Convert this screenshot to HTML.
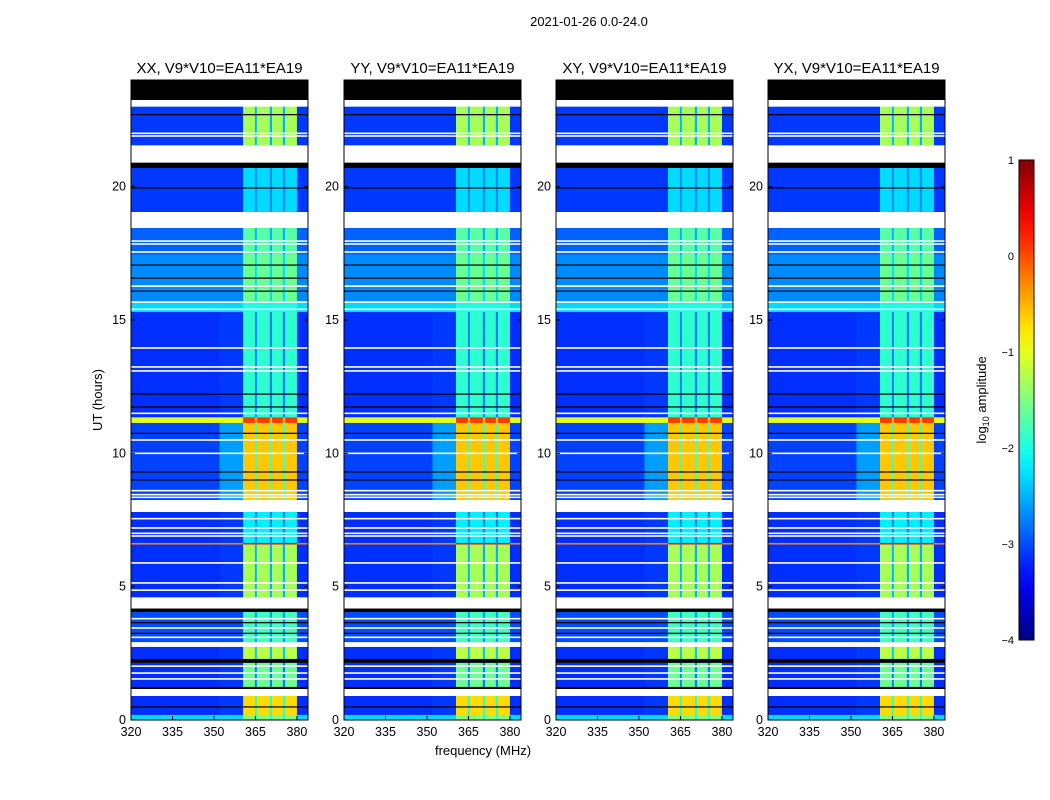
<!DOCTYPE html>
<html><head><meta charset="utf-8">
<style>
html,body{margin:0;padding:0;background:#fff;}
svg{display:block;font-family:"Liberation Sans",sans-serif;}
</style></head>
<body>
<svg id="fig" width="1050" height="800" viewBox="0 0 1050 800" xmlns="http://www.w3.org/2000/svg">
<text x="589" y="26" font-size="13" text-anchor="middle">2021-01-26 0.0-24.0</text>
<text x="483" y="755" font-size="13" text-anchor="middle">frequency (MHz)</text>
<text transform="translate(102,400) rotate(-90)" font-size="13" text-anchor="middle">UT (hours)</text>
</svg>
<script>
// ---- data ----
const panelTitles = ["XX, V9*V10=EA11*EA19","YY, V9*V10=EA11*EA19","XY, V9*V10=EA11*EA19","YX, V9*V10=EA11*EA19"];
const xTicks = [320,335,350,365,380];
const yTicks = [0,5,10,15,20];
const cbTicks = [1,0,-1,-2,-3,-4];
const bandStart = [24,23.25,23.0,21.55,20.9,20.7,19.05,18.45,17.45,15.7,15.3,11.35,11.14,8.25,7.8,6.64,6.58,4.6,4.18,4.05,2.92,2.74,2.29,2.14,1.24,1.16,0.9,0.19];
const bandEnd   = [23.25,23.0,21.55,20.9,20.7,19.05,18.45,17.45,15.7,15.3,11.35,11.14,8.25,7.8,6.64,6.58,4.6,4.18,4.05,2.92,2.74,2.29,2.14,1.24,1.16,0.9,0.19,0];
const bandType  = ["K","W","D","W","K","D","W","D","D","D","D","D","D","W","D","D","D","W","K","D","W","D","K","D","K","W","D","D"];
const bandBg    = [0,0,-3.1,0,0,-3.1,0,-2.9,-2.7,-2.3,-3.15,-1.0,-3.05,0,-3.15,-0.3,-3.15,0,0,-3.0,0,-3.15,0,-3.15,0,0,-3.15,-2.3];
const bandSh    = [0,0,-3.1,0,0,-3.1,0,-2.9,-2.7,-2.3,-3.1,-1.0,-2.6,0,-3.1,-0.3,-3.1,0,0,-3.0,0,-3.1,0,-3.1,0,0,-3.1,-2.3];
const bandRfi   = [0,0,-1.3,0,0,-2.3,0,-1.7,-1.6,-2.0,-1.9,0.1,-0.6,0,-2.2,0.3,-1.3,0,0,-1.8,0,-1.2,0,-1.6,0,0,-0.7,-1.5];
const segStart = [320,352,360.5,364.8,365.5,370.2,371,374.9,375.7,380];
const segEnd   = [352,360.5,364.8,365.5,370.2,371,374.9,375.7,380,384];
const segKind  = ["bg","sh","rfi","gap","rfi","gap","rfi","gap","rfi","bg"];
const whiteLines = [22.0,21.9,17.96,17.85,17.55,16.27,15.67,15.4,13.95,13.24,13.09,11.5,10.5,10.0,8.6,8.45,8.35,7.55,7.2,7.0,6.9,5.89,5.14,4.87,4.4,3.8,3.45,3.1,2.02,1.76,1.54];
const blackLines = [22.7,19.95,17.06,16.57,16.08,12.22,11.74,10.75,9.3,9.0,3.65,3.25,0.49];

// ---- layout ----
const NS="http://www.w3.org/2000/svg";
const svg=document.getElementById('fig');
const panelX=[131,344,556,768], PW=177, PT=80, PB=720;
const fMin=320,fMax=384,tMin=0,tMax=24;
function xs(x0,f){return x0+(f-fMin)/(fMax-fMin)*PW;}
function ys(t){return PB-(t-tMin)/(tMax-tMin)*(PB-PT);}
function jet(v){
  let t=(v+4)/5; t=Math.max(0,Math.min(1,t));
  const c=x=>Math.round(255*Math.max(0,Math.min(1,x)));
  return `rgb(${c(1.5-Math.abs(4*t-3))},${c(1.5-Math.abs(4*t-2))},${c(1.5-Math.abs(4*t-1))})`;
}
function mk(tag,attrs,parent){const e=document.createElementNS(NS,tag);for(const k in attrs)e.setAttribute(k,attrs[k]);(parent||svg).appendChild(e);return e;}

panelX.forEach((x0,p)=>{
  const g=mk('g',{});
  
  
  for(let i=0;i<bandStart.length;i++){
    const y1=ys(bandStart[i]), y2=ys(bandEnd[i]);
    if(bandType[i]!=="D"){
      const r=mk('rect',{x:x0,y:y1,width:PW,height:y2-y1,fill:bandType[i]==="K"?'#000':'#fff'},g);
      
      
      continue;
    }
    for(let s=0;s<segStart.length;s++){
      let v;
      if(segKind[s]==="bg") v=bandBg[i];
      else if(segKind[s]==="sh") v=bandSh[i];
      else if(segKind[s]==="rfi") v=bandRfi[i];
      else v=Math.min(bandRfi[i],Math.max(bandBg[i]+0.4,bandRfi[i]-1.2));
      const xa=xs(x0,segStart[s]), xb=xs(x0,segEnd[s]);
      const r=mk('rect',{x:xa,y:y1,width:xb-xa+0.3,height:y2-y1+0.3,fill:jet(v)},g);
      
      
    }
  }
  whiteLines.forEach(t=>{
    const r=mk('rect',{x:x0,y:ys(t)-0.8,width:PW,height:1.6,fill:'#fff'},g);
    
    
  });
  blackLines.forEach(t=>{
    const r=mk('rect',{x:x0,y:ys(t)-0.6,width:PW,height:1.2,fill:'#000'},g);
    
    
  });
  const fr=mk('rect',{x:x0,y:PT,width:PW,height:PB-PT,fill:'none',stroke:'#000','stroke-width':1},g);
  
  
  const tt=mk('text',{x:x0+PW/2,y:73,'font-size':15,'text-anchor':'middle'},g);
  tt.textContent=panelTitles[p];
  
  
  xTicks.forEach(f=>{
    const x=xs(x0,f);
    mk('line',{x1:x,x2:x,y1:PB,y2:PB-4,stroke:'#000'},g);
    mk('line',{x1:x,x2:x,y1:PT,y2:PT+4,stroke:'#000'},g);
    const l=mk('text',{x:x,y:PB+16,'font-size':12.5,'text-anchor':'middle'},g);
    l.textContent=f;
    
    
  });
  yTicks.forEach(t=>{
    const y=ys(t);
    mk('line',{x1:x0,x2:x0+4,y1:y,y2:y,stroke:'#000'},g);
    mk('line',{x1:x0+PW,x2:x0+PW-4,y1:y,y2:y,stroke:'#000'},g);
    const l=mk('text',{x:x0-5,y:y+4,'font-size':12.5,'text-anchor':'end'},g);
    l.textContent=t;
    
    
  });
});

// ---- colorbar ----
const CX=1019,CW=15,CT=160,CB=640;
const defs=mk('defs',{});
const lg=mk('linearGradient',{id:'jetg',x1:0,y1:1,x2:0,y2:0},defs);
for(let i=0;i<=20;i++){const v=-4+5*i/20;mk('stop',{offset:(i/20),'stop-color':jet(v)},lg);}
const cb=mk('rect',{x:CX,y:CT,width:CW,height:CB-CT,fill:'url(#jetg)',stroke:'#000','stroke-width':1});


cbTicks.forEach(v=>{
  const y=CB-(v+4)/5*(CB-CT);
  const l=mk('text',{x:CX-5,y:y+4,'font-size':11,'text-anchor':'end'});
  l.textContent=v<0?'\u2212'+(-v):String(v);
  
  
});
const cl=mk('text',{transform:'translate(986,400) rotate(-90)','font-size':13,'text-anchor':'middle'});
cl.innerHTML='log<tspan font-size="9" dy="3">10</tspan><tspan dy="-3"> amplitude</tspan>';


</script>
</body></html>
